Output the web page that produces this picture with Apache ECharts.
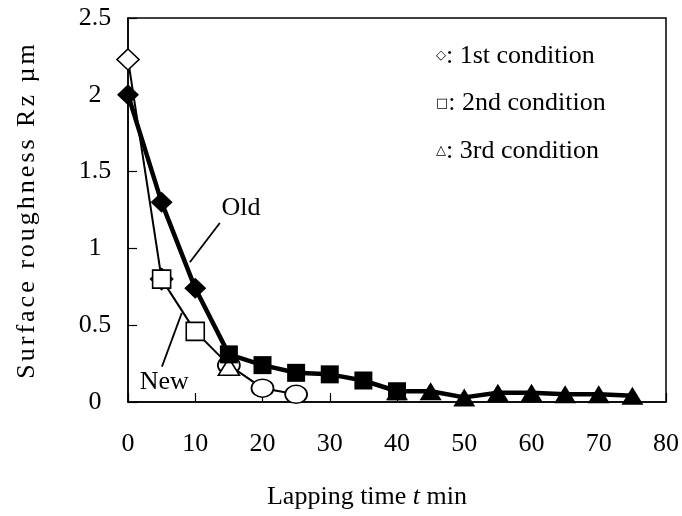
<!DOCTYPE html>
<html>
<head>
<meta charset="utf-8">
<script src="https://cdn.jsdelivr.net/npm/echarts@6/dist/echarts.min.js"></script>
<style>
  html, body { margin: 0; padding: 0; background: #ffffff; }
  #chart { width: 682px; height: 516px; }
</style>
</head>
<body>
<div id="chart"></div>
<script>
// Axis ticks
const xTicks = [0, 10, 20, 30, 40, 50, 60, 70, 80];
const yTicks = [0, 0.5, 1, 1.5, 2, 2.5];

// "Old" process — thick line, filled markers (Rz in µm vs. lapping time in min)
const oldT1 = [0, 5, 10];
const oldRz1 = [2.0, 1.3, 0.74];
const oldT2 = [15, 20, 25, 30, 35, 40];
const oldRz2 = [0.31, 0.24, 0.19, 0.18, 0.14, 0.07];
const oldT3 = [40, 45, 50, 55, 60, 65, 70, 75];
const oldRz3 = [0.07, 0.07, 0.03, 0.06, 0.06, 0.05, 0.05, 0.04];

// "New" process — thin line, open markers
const newT1 = [0, 5];
const newRz1 = [2.23, 0.8];
const newT2 = [5, 10];
const newRz2 = [0.8, 0.46];
const newT3 = [15];
const newRz3 = [0.23];
const newTc = [15, 20, 25];
const newRzc = [0.24, 0.09, 0.05];

// Legend rows
const legendSymbols = ['\u25C7', '\u25A1', '\u25B3'];
const legendTexts = [': 1st condition', ': 2nd condition', ': 3rd condition'];

// Callout labels, anchored in data space: [text, textPos, lineStart, lineEnd]
const callouts = [
  ['Old', [16.8, 1.26], [13.65, 1.165], [9.2, 0.91]],
  ['New', [5.4, 0.13], [5.05, 0.23], [8.0, 0.58]]
];

const Y_TITLE = 'Surface roughness Rz \u00B5m';
const FONT = '"Liberation Serif", "Times New Roman", serif';
const FS = 26;

// The y-axis title is set with open tracking (canvas letterSpacing)
(function () {
  const proto = CanvasRenderingContext2D.prototype;
  const fill = proto.fillText;
  proto.fillText = function (text, x, y, maxWidth) {
    if (text === Y_TITLE) {
      const font = this.font;
      this.letterSpacing = '3px';
      this.font = font;
      fill.call(this, text, x, y);
      this.letterSpacing = '0px';
      this.font = font;
      return;
    }
    return maxWidth === undefined ? fill.call(this, text, x, y) : fill.call(this, text, x, y, maxWidth);
  };
})();

function pairs(xs, ys) { return xs.map((x, i) => [x, ys[i]]); }
function uniqueMerge(list) {
  const out = [];
  const seen = new Set();
  list.forEach(p => { if (!seen.has(p[0])) { seen.add(p[0]); out.push(p); } });
  return out.sort((a, b) => a[0] - b[0]);
}

const oldLine = uniqueMerge(pairs(oldT1, oldRz1).concat(pairs(oldT2, oldRz2), pairs(oldT3, oldRz3)));
const newLine = uniqueMerge(pairs(newT1, newRz1).concat(pairs(newT2, newRz2), pairs(newTc, newRzc)));

function markers(name, data, symbol, size, filled, z) {
  return {
    name, type: 'scatter', data, symbol, symbolSize: size, z,
    itemStyle: { color: filled ? '#000' : '#fff', borderColor: '#000', borderWidth: filled ? 0 : 1.6, opacity: 1 },
    emphasis: { disabled: true }, silent: true
  };
}

const chart = echarts.init(document.getElementById('chart'), null, { renderer: 'canvas' });

const option = {
  animation: false,
  backgroundColor: '#ffffff',
  grid: { left: 128, right: 15, top: 18, bottom: 114, show: true, borderColor: '#000', borderWidth: 1.5, backgroundColor: 'transparent' },
  xAxis: {
    type: 'value', min: xTicks[0], max: xTicks[xTicks.length - 1], interval: 10,
    axisLine: { show: true, lineStyle: { color: '#000', width: 1.5 } },
    axisTick: { show: true, inside: true, length: 9, lineStyle: { color: '#000', width: 1.2 } },
    axisLabel: { color: '#000', fontFamily: FONT, fontSize: FS, margin: 29 },
    splitLine: { show: false }
  },
  yAxis: {
    type: 'value', min: yTicks[0], max: yTicks[yTicks.length - 1], interval: 0.5,
    name: Y_TITLE, nameLocation: 'middle', nameGap: 88, nameRotate: 90,
    nameTextStyle: { color: '#000', fontFamily: FONT, fontSize: FS },
    axisLine: { show: true, lineStyle: { color: '#000', width: 1.5 } },
    axisTick: { show: true, inside: true, length: 9, lineStyle: { color: '#000', width: 1.2 } },
    axisLabel: { color: '#000', fontFamily: FONT, fontSize: FS, margin: 33, align: 'center' },
    splitLine: { show: false }
  },
  series: [
    { name: 'New', type: 'line', data: newLine, showSymbol: false, symbol: 'none', z: 2,
      lineStyle: { color: '#000', width: 2 }, silent: true },
    markers('New 1st', pairs(newT1, newRz1), 'diamond', [22, 21], false, 3),
    markers('New 2nd', pairs(newT2, newRz2), 'rect', [18, 18], false, 3),
    markers('New circle', pairs(newTc, newRzc), 'circle', [22, 18], false, 3),
    markers('New 3rd', pairs(newT3, newRz3), 'triangle', [21, 17], false, 4),
    { name: 'Old', type: 'line', data: oldLine, showSymbol: false, symbol: 'none', z: 5,
      lineStyle: { color: '#000', width: 4.5 }, silent: true },
    markers('Old 1st', pairs(oldT1, oldRz1), 'diamond', [22, 21], true, 6),
    markers('Old 2nd', pairs(oldT2, oldRz2), 'rect', [18, 18], true, 6),
    markers('Old 3rd', pairs(oldT3, oldRz3), 'triangle', [22, 18], true, 7)
  ]
};
chart.setOption(option);

// Text and leader lines laid out from the grid's own coordinate system
const graphics = [];
legendSymbols.forEach((s, i) => {
  graphics.push({
    type: 'text', left: 436, top: 43 + i * 47.5, silent: true,
    style: {
      text: '{s|' + s + '}{t|' + legendTexts[i] + '}',
      rich: {
        s: { fontFamily: '"DejaVu Sans", sans-serif', fontSize: 13, fill: '#000', verticalAlign: 'middle' },
        t: { fontFamily: FONT, fontSize: FS, fill: '#000' }
      }
    }
  });
});
callouts.forEach(([label, tp, a, b]) => {
  const p = chart.convertToPixel({ gridIndex: 0 }, tp);
  const pa = chart.convertToPixel({ gridIndex: 0 }, a);
  const pb = chart.convertToPixel({ gridIndex: 0 }, b);
  graphics.push({
    type: 'text', x: p[0], y: p[1], silent: true,
    style: { text: label, fontFamily: FONT, fontSize: FS, fill: '#000', align: 'center', verticalAlign: 'middle' }
  });
  graphics.push({
    type: 'line', silent: true,
    shape: { x1: pa[0], y1: pa[1], x2: pb[0], y2: pb[1] },
    style: { stroke: '#000', lineWidth: 1.8 }
  });
});
// x-axis title with the italic variable
graphics.push({
  type: 'text', x: 367, y: 497, silent: true,
  style: {
    text: 'Lapping time {i|t} min', fontFamily: FONT, fontSize: FS, fill: '#000',
    align: 'center', verticalAlign: 'middle',
    rich: { i: { fontFamily: FONT, fontSize: FS, fontStyle: 'italic', fill: '#000' } }
  }
});
chart.setOption({ graphic: graphics });
</script>
</body>
</html>
